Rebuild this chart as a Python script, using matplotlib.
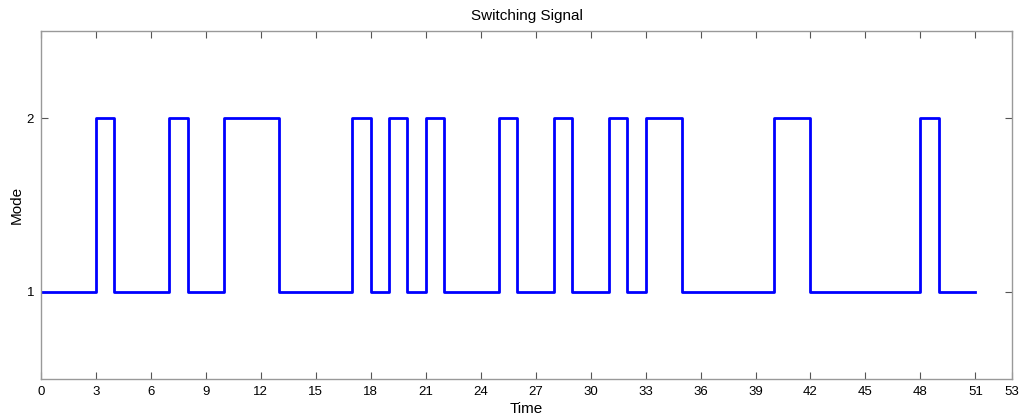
import matplotlib
matplotlib.use('Agg')
import matplotlib.pyplot as plt
import numpy as np

# switching instants and the mode held from each instant on
switch_times = [0, 3, 4, 7, 8, 10, 13, 17, 18, 19, 20, 21, 22, 25, 26, 28, 29,
                31, 32, 33, 35, 40, 42, 48, 49, 51]
modes = [1, 2, 1, 2, 1, 2, 1, 2, 1, 2, 1, 2, 1, 2, 1, 2, 1,
         2, 1, 2, 1, 2, 1, 2, 1, 1]
xticks = list(range(0, 52, 3)) + [53]
yticks = [1, 2]

plt.rcParams['font.family'] = ['Liberation Sans', 'DejaVu Sans']

fig = plt.figure(figsize=(10.29, 4.19), dpi=100)
ax = fig.add_axes([0.0398, 0.0955, 0.9437, 0.8305])
ax.plot(switch_times, modes, drawstyle='steps-post', color='#0000ff', lw=2.0)

ax.set_xlim(0, 53)
ax.set_ylim(0.5, 2.5)
ax.set_xticks(xticks)
ax.set_yticks(yticks)
ax.tick_params(direction='in', length=5, width=0.8, color='#555555',
               labelsize=9.5, top=True, right=True, pad=5)
for s in ax.spines.values():
    s.set_color('#999999')
    s.set_linewidth(1.0)

ax.set_title('Switching Signal', fontsize=11, pad=8)
ax.set_xlabel('Time', fontsize=11, labelpad=3)
ax.set_ylabel('Mode', fontsize=11, labelpad=2)

fig.savefig('out.png', dpi=100)
